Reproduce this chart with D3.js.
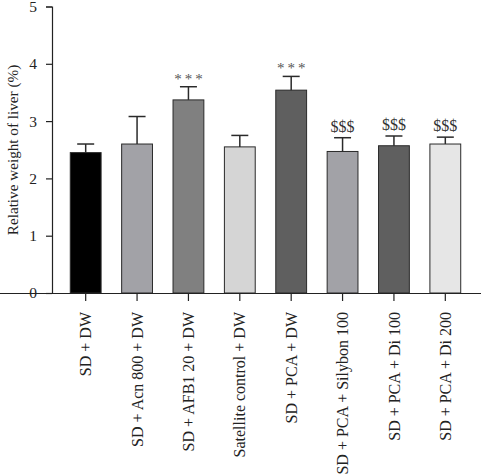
<!DOCTYPE html>
<html>
<head>
<meta charset="utf-8">
<script src="https://cdn.jsdelivr.net/npm/d3@7"></script>
<style>
  body { margin: 0; background: #fff; }
  svg { display: block; font-family: "Liberation Serif", "DejaVu Serif", serif; }
</style>
</head>
<body>
<svg width="481" height="474"></svg>
<script>
var svg = d3.select('svg');

// data
var groups = ['SD + DW', 'SD + Acn 800 + DW', 'SD + AFB1 20 + DW', 'Satellite control + DW',
  'SD + PCA + DW', 'SD + PCA + Silybon 100', 'SD + PCA + Di 100', 'SD + PCA + Di 200'];
var means = [2.45, 2.60, 3.37, 2.55, 3.54, 2.47, 2.57, 2.60];
var errTops = [2.60, 3.08, 3.60, 2.75, 3.78, 2.71, 2.74, 2.72];
var marks = ['', '', '***', '', '***', '$$$', '$$$', '$$$'];
var fills = ['#000000', '#a2a2a7', '#808080', '#d5d5d5', '#5f5f5f', '#a2a2a7', '#5f5f5f', '#e6e6e6'];
var yTicks = [0, 1, 2, 3, 4, 5];

var x = d3.scaleBand().domain(groups).range([60, 471]).paddingInner(0.4).paddingOuter(0.2);
var y = d3.scaleLinear().domain([0, 5]).range([293, 6.5]);

// y axis
var yAxis = svg.append('g')
  .attr('transform', 'translate(52,0)')
  .call(d3.axisLeft(y).tickValues(yTicks).tickSize(6).tickPadding(9).tickFormat(d3.format('d')));
yAxis.attr('font-size', null).attr('font-family', null);
yAxis.select('.domain').attr('stroke', '#222').attr('stroke-width', 1.2);
yAxis.selectAll('.tick line').attr('stroke', '#222').attr('stroke-width', 1.2);
yAxis.selectAll('text').style('font-size', '15.5px').attr('fill', '#222');

svg.append('text')
  .attr('transform', 'translate(13,150) rotate(-90)')
  .attr('text-anchor', 'middle')
  .attr('dy', '0.35em')
  .style('font-size', '15.2px')
  .attr('fill', '#222')
  .text('Relative weight of liver (%)');

// bars
var bars = svg.append('g').selectAll('g')
  .data(groups)
  .enter()
  .append('g');

bars.append('rect')
  .attr('x', function(d) { return x(d); })
  .attr('width', x.bandwidth())
  .attr('y', function(d, i) { return y(means[i]); })
  .attr('height', function(d, i) { return y(0) - y(means[i]); })
  .attr('fill', function(d, i) { return fills[i]; })
  .attr('stroke', '#2a2a2a')
  .attr('stroke-width', 1);

// error bars (upper only)
bars.append('line')
  .attr('x1', function(d) { return x(d) + x.bandwidth() / 2; })
  .attr('x2', function(d) { return x(d) + x.bandwidth() / 2; })
  .attr('y1', function(d, i) { return y(means[i]); })
  .attr('y2', function(d, i) { return y(errTops[i]); })
  .attr('stroke', '#2a2a2a')
  .attr('stroke-width', 1.5);

bars.append('line')
  .attr('x1', function(d) { return x(d) + x.bandwidth() / 2 - 8.5; })
  .attr('x2', function(d) { return x(d) + x.bandwidth() / 2 + 8.5; })
  .attr('y1', function(d, i) { return y(errTops[i]); })
  .attr('y2', function(d, i) { return y(errTops[i]); })
  .attr('stroke', '#2a2a2a')
  .attr('stroke-width', 1.5);

// significance marks
bars.append('text')
  .attr('x', function(d, i) { return x(d) + x.bandwidth() / 2 + (marks[i] === '***' ? 1.5 : 0); })
  .attr('y', function(d, i) { return y(errTops[i]) - (marks[i] === '***' ? 3 : 6); })
  .attr('text-anchor', 'middle')
  .style('font-size', function(d, i) { return marks[i] === '***' ? '15px' : '16px'; })
  .attr('letter-spacing', function(d, i) { return marks[i] === '***' ? 3 : 0; })
  .attr('fill', function(d, i) { return marks[i] === '***' ? '#555' : '#333'; })
  .text(function(d, i) { return marks[i]; });

// x axis
var xAxis = svg.append('g')
  .attr('transform', 'translate(0,293)')
  .call(d3.axisBottom(x).tickSize(8).tickSizeOuter(0));
xAxis.attr('font-size', null).attr('font-family', null);
xAxis.select('.domain').attr('d', 'M-8,0.5H481').attr('stroke', '#222').attr('stroke-width', 1.2);
xAxis.selectAll('.tick line').attr('stroke', '#222').attr('stroke-width', 1.2);
xAxis.selectAll('text')
  .style('font-size', '16px')
  .attr('fill', '#222')
  .attr('text-anchor', 'end')
  .attr('transform', 'rotate(-90)')
  .attr('x', -19)
  .attr('y', 0)
  .attr('dy', '0.35em');
</script>
</body>
</html>
